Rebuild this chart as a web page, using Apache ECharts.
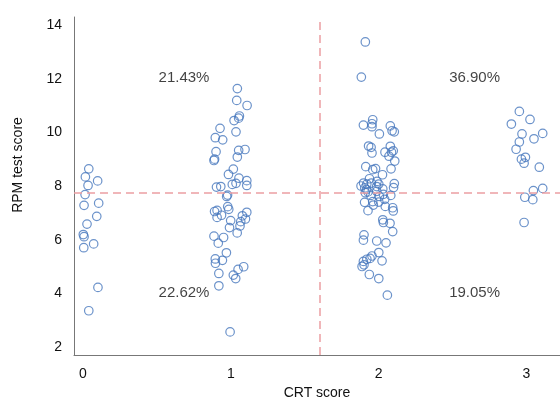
<!DOCTYPE html>
<html>
<head>
<meta charset="utf-8">
<script src="https://cdn.jsdelivr.net/npm/echarts@6/dist/echarts.min.js"></script>
<style>
  html, body { margin: 0; padding: 0; background: #ffffff; }
  #chart { width: 560px; height: 405px; }
</style>
</head>
<body>
<div id="chart"></div>
<script>
// Each participant: [CRT score with horizontal jitter, RPM test score]
const crt0 = [
  [0.039, 8.64], [0.016, 8.34], [0.099, 8.19], [0.034, 8.02], [0.014, 7.68],
  [0.106, 7.36], [0.007, 7.28], [0.093, 6.87], [0.027, 6.58], [0.002, 6.19],
  [0.007, 6.11], [0.072, 5.84], [0.005, 5.70], [0.101, 4.22], [0.039, 3.35]
];
const crt1 = [
  [1.044, 11.63], [1.040, 11.19], [1.110, 11.00], [1.058, 10.61], [1.053, 10.53],
  [1.022, 10.44], [0.927, 10.15], [1.035, 10.02], [0.895, 9.80], [0.945, 9.72],
  [0.900, 9.28], [1.053, 9.33], [1.096, 9.36], [1.044, 9.08], [0.890, 9.00],
  [0.886, 8.95], [1.017, 8.63], [0.984, 8.43], [1.055, 8.29], [1.108, 8.20],
  [1.010, 8.06], [1.035, 8.10], [1.108, 8.02], [0.903, 7.96], [0.932, 7.98],
  [0.978, 7.66], [0.972, 7.61], [0.979, 7.23], [0.986, 7.13], [0.890, 7.05],
  [0.907, 7.09], [0.937, 6.91], [0.907, 6.83], [1.108, 7.02], [1.078, 6.89],
  [1.099, 6.77], [0.999, 6.71], [1.067, 6.67], [1.062, 6.51], [0.991, 6.45],
  [1.043, 6.25], [0.886, 6.13], [0.951, 6.08], [0.915, 5.87], [0.970, 5.51],
  [0.895, 5.28], [0.943, 5.23], [0.896, 5.12], [1.087, 4.99], [1.049, 4.89],
  [1.017, 4.68], [1.033, 4.55], [0.919, 4.74], [0.919, 4.28], [0.995, 2.56]
];
const crt2 = [
  [1.910, 13.37], [1.883, 12.06], [1.897, 10.27], [1.960, 10.47], [1.955, 10.32],
  [1.955, 10.21], [2.005, 9.94], [2.079, 10.24], [2.091, 10.06], [2.106, 10.02],
  [1.932, 9.49], [1.949, 9.44], [1.955, 9.23], [2.043, 9.26], [2.079, 9.48],
  [2.087, 9.26], [2.099, 9.31], [2.070, 9.11], [2.109, 8.93], [1.913, 8.72],
  [1.960, 8.61], [1.979, 8.65], [2.026, 8.42], [2.084, 8.64], [1.938, 8.27],
  [1.989, 8.17], [1.898, 8.11], [1.920, 8.07], [1.951, 8.11], [2.001, 8.07],
  [2.106, 8.09], [1.881, 8.00], [1.906, 7.93], [1.918, 7.87], [1.987, 7.98],
  [2.101, 7.94], [1.910, 7.75], [1.928, 7.78], [1.947, 7.65], [1.987, 7.80],
  [2.028, 7.89], [2.032, 7.69], [2.082, 7.65], [2.005, 7.61], [1.960, 7.42],
  [1.905, 7.39], [2.001, 7.40], [2.041, 7.50], [2.045, 7.24], [2.095, 7.19],
  [2.099, 7.07], [1.964, 7.29], [1.928, 7.08], [2.028, 6.74], [2.032, 6.64],
  [2.077, 6.61], [2.095, 6.30], [1.901, 6.18], [1.897, 5.98], [1.987, 5.95],
  [2.050, 5.88], [2.001, 5.52], [1.955, 5.39], [1.942, 5.30], [1.920, 5.27],
  [1.897, 5.19], [1.888, 5.00], [1.901, 5.06], [2.023, 5.21], [1.937, 4.70],
  [2.001, 4.55], [2.059, 3.93]
];
const crt3 = [
  [2.952, 10.78], [3.024, 10.48], [2.898, 10.31], [2.970, 9.94], [3.110, 9.96],
  [3.051, 9.76], [2.952, 9.64], [2.930, 9.37], [2.993, 9.07], [2.966, 9.00],
  [2.984, 8.85], [3.087, 8.70], [3.110, 7.91], [3.047, 7.83], [2.989, 7.58],
  [3.043, 7.49], [2.984, 6.64]
];

// Sample means used to split the plot into quadrants
const meanCRT = 1.60;
const meanRPM = 7.76;

// Share of participants in each quadrant and where its label sits
const quadrantLabels = ['21.43%', '36.90%', '22.62%', '19.05%'];
const quadrantX = [0.683, 2.649, 0.683, 2.649];
const quadrantY = [12.03, 12.03, 4.01, 4.01];

const xTicks = [0, 1, 2, 3];
const yTicks = [2, 4, 6, 8, 10, 12, 14];

const FONT = 'Liberation Sans, Arial, sans-serif';
const TEXT = '#111111';

const points = [].concat(crt0, crt1, crt2, crt3);
const labelData = quadrantLabels.map((t, i) => ({ value: [quadrantX[i], quadrantY[i]], name: t }));

const chart = echarts.init(document.getElementById('chart'), null, { renderer: 'canvas' });
chart.setOption({
  animation: false,
  backgroundColor: '#ffffff',
  grid: { left: 74, right: 0, top: 17, bottom: 49, containLabel: false },
  xAxis: {
    type: 'value',
    min: -0.061,
    max: 3.227,
    name: 'CRT score',
    nameLocation: 'middle',
    nameGap: 31,
    nameTextStyle: { fontFamily: FONT, fontSize: 14, color: TEXT },
    axisLine: { show: true, onZero: false, lineStyle: { color: '#777777', width: 1 } },
    axisTick: { show: false },
    splitLine: { show: false },
    axisLabel: {
      customValues: xTicks,
      margin: 12,
      fontFamily: FONT, fontSize: 14, color: TEXT
    }
  },
  yAxis: {
    type: 'value',
    min: 1.70,
    max: 14.30,
    axisLine: { show: true, onZero: false, lineStyle: { color: '#777777', width: 1 } },
    axisTick: { show: false },
    splitLine: { show: false },
    axisLabel: {
      customValues: yTicks,
      margin: 12,
      fontFamily: FONT, fontSize: 14, color: TEXT
    }
  },
  graphic: [{
    type: 'text',
    x: 18,
    y: 165,
    rotation: Math.PI / 2,
    style: {
      text: 'RPM test score',
      fontFamily: FONT,
      fontSize: 14,
      fill: TEXT,
      textAlign: 'center',
      textVerticalAlign: 'middle'
    }
  }],
  series: [
    {
      type: 'scatter',
      data: points,
      symbol: 'circle',
      symbolSize: 8.5,
      itemStyle: { color: 'rgba(255,255,255,0)', borderColor: '#4677bd', borderWidth: 1.2 },
      emphasis: { disabled: true },
      markLine: {
        silent: true,
        symbol: 'none',
        label: { show: false },
        lineStyle: { color: '#eb9ea2', width: 1.5, type: [8, 5] },
        data: [{ xAxis: meanCRT }, { yAxis: meanRPM }]
      },
      z: 3
    },
    {
      type: 'scatter',
      data: labelData,
      symbolSize: 0,
      silent: true,
      label: {
        show: true,
        position: 'inside',
        formatter: p => p.name,
        fontFamily: FONT,
        fontSize: 15,
        color: TEXT
      },
      z: 4
    }
  ]
});
</script>
</body>
</html>
